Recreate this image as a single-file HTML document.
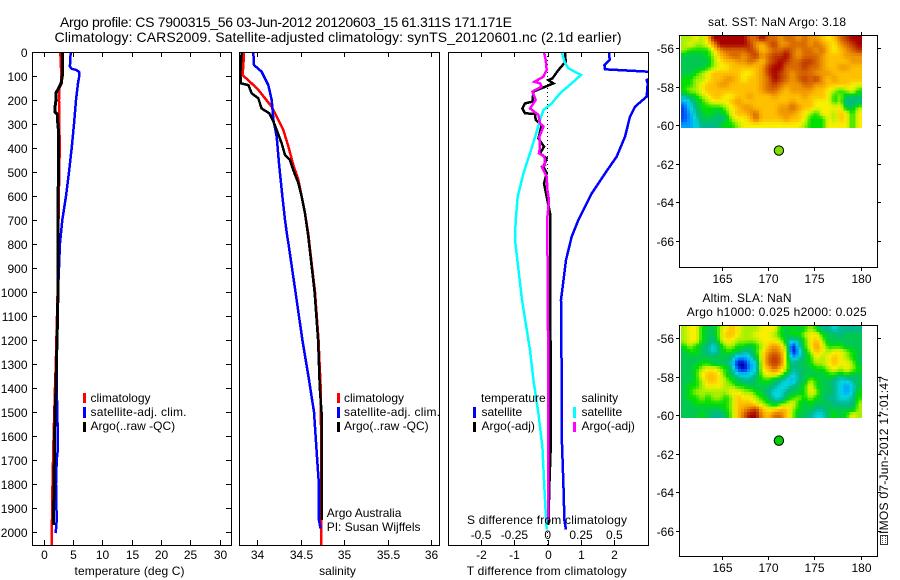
<!DOCTYPE html>
<html lang="en">
<head>
<meta charset="utf-8">
<title>Argo profile chart</title>
<style>
html,body{margin:0;padding:0;background:#fff;}
svg{display:block;}
text{font-family:"Liberation Sans",sans-serif;font-size:12px;fill:#000;}
.title{font-size:14px;}
</style>
</head>
<body>
<svg id="chart" width="900" height="580" viewBox="0 0 900 580" xmlns="http://www.w3.org/2000/svg">
<rect x="0" y="0" width="900" height="580" fill="#fff"/>
<defs>
<clipPath id="clipT"><rect x="32" y="52" width="199" height="493"/></clipPath>
<clipPath id="clipS"><rect x="239" y="52" width="200" height="493"/></clipPath>
<clipPath id="clipD"><rect x="448" y="52" width="200" height="493"/></clipPath>
</defs>
<text class="title" x="60" y="27" textLength="452">Argo profile: CS 7900315_56 03-Jun-2012 20120603_15 61.311S 171.171E</text>
<text class="title" x="54.5" y="42" textLength="567">Climatology: CARS2009. Satellite-adjusted climatology: synTS_20120601.nc (2.1d earlier)</text>

<g id="panelT"></g>
<g id="panelS"></g>
<g id="panelD"></g>
<g id="mapA"></g>
<g id="mapB"></g>

<text x="129.5" y="575" text-anchor="middle" textLength="110">temperature (deg C)</text>
<text x="337.5" y="575" text-anchor="middle">salinity</text>
<text x="546.7" y="575" text-anchor="middle" textLength="160">T difference from climatology</text>
<text x="547" y="524" text-anchor="middle" textLength="160">S difference from climatology</text>

<g>
<rect x="83" y="393" width="3" height="10" fill="#ff0000"/>
<text x="90.5" y="402">climatology</text>
<rect x="83" y="407" width="3" height="11" fill="#0000ff"/>
<text x="90.5" y="416" textLength="96">satellite-adj. clim.</text>
<rect x="83" y="422" width="3" height="10" fill="#000"/>
<text x="90.5" y="430">Argo(..raw -QC)</text>
</g>
<g>
<rect x="337" y="393" width="3" height="10" fill="#ff0000"/>
<text x="344" y="402">climatology</text>
<rect x="337" y="407" width="3" height="11" fill="#0000ff"/>
<text x="344" y="416" textLength="96">satellite-adj. clim.</text>
<rect x="337" y="422" width="3" height="10" fill="#000"/>
<text x="344" y="430">Argo(..raw -QC)</text>
</g>
<text x="326.7" y="517">Argo Australia</text>
<text x="326.7" y="531">PI: Susan Wijffels</text>
<g>
<text x="481" y="402">temperature</text>
<rect x="473" y="407" width="3" height="11" fill="#0000ff"/>
<text x="481.5" y="416">satellite</text>
<rect x="473" y="422" width="3" height="10" fill="#000"/>
<text x="481.5" y="430">Argo(-adj)</text>
<text x="581.5" y="402">salinity</text>
<rect x="573" y="407" width="3" height="11" fill="#00ffff"/>
<text x="581.5" y="416">satellite</text>
<rect x="573" y="422" width="3" height="10" fill="#ff00ff"/>
<text x="581.5" y="430">Argo(-adj)</text>
</g>

<text x="777" y="26" text-anchor="middle" textLength="138">sat. SST: NaN Argo: 3.18</text>
<text x="747" y="302" text-anchor="middle" textLength="89">Altim. SLA: NaN</text>
<text x="776.7" y="316" text-anchor="middle" textLength="180">Argo h1000: 0.025 h2000: 0.025</text>

<g>
<rect x="880.5" y="535.5" width="7" height="9" fill="#fff" stroke="#333" stroke-width="1" shape-rendering="crispEdges"/>
<line x1="882.5" y1="536" x2="882.5" y2="544" stroke="#555" stroke-dasharray="1 1" shape-rendering="crispEdges"/>
<line x1="885.5" y1="536" x2="885.5" y2="544" stroke="#555" stroke-dasharray="1 1" shape-rendering="crispEdges"/>
</g>
<text transform="translate(888,534) rotate(-90)" textLength="158">IMOS 07-Jun-2012 17:01:47</text>
</svg>

<script>
// ---- axis tick data ----
const depthTicks = [0,100,200,300,400,500,600,700,800,900,1000,1100,1200,1300,1400,1500,1600,1700,1800,1900,2000];
const tempTicks = [0,5,10,15,20,25,30];
const salTicks = [34,34.5,35,35.5,36];
const salTickLabels = ['34','34.5','35','35.5','36'];
const tDiffTicks = [-2,-1,0,1,2];
const tDiffTickLabels = ['-2','-1','0','1','2'];
const sDiffTicks = [-0.5,-0.25,0,0.25,0.5];
const sDiffTickLabels = ['-0.5','-0.25','0','0.25','0.5'];
const lonTicks = [165,170,175,180];
const latTicks = [-56,-58,-60,-62,-64,-66];

// ---- temperature panel data ----
const tempClimDepth = [0,130,150,200,300,385,500,600,700,900,1100,1300,1400,1650,1850,2054];
const tempClimValue = [2.87,3.1,2.7,2.64,2.7,2.76,2.7,2.6,2.55,2.5,2.3,2.1,1.96,1.67,1.5,1.4];
const tempSatDepth = [0,60,70,75,85,100,130,200,300,400,500,600,700,800,900,1000,1200,1400,1500,1650,1700,1800,1950,2005];
const tempSatValue = [4.63,4.5,4.8,5.65,6.1,6.1,5.88,5.54,5.2,4.8,4.35,3.84,3.2,2.8,2.65,2.47,2.3,2.25,2.35,2.47,2.25,2.13,2.25,2.08];
const tempArgoDepth = [0,100,130,150,170,200,230,250,260,290,300,400,600,700,900,1100,1300,1400,1500,1650,1800,1960,1970];
const tempArgoValue = [3.27,3.2,3.0,2.6,2.13,2.13,1.96,1.96,2.35,2.35,2.5,2.55,2.5,2.5,2.5,2.4,2.2,2.13,1.96,1.85,1.8,1.67,1.67];

// ---- salinity panel data ----
const salClimDepth = [0,61,96,124,158,193,228,269,325,394,471,533,603,672,769,800,1000,1200,1400,1600,2054];
const salClimValue = [33.847,33.839,33.828,33.916,34.012,34.089,34.166,34.223,34.3,34.358,34.415,34.473,34.511,34.55,34.592,34.6,34.665,34.705,34.73,34.735,34.737];
const salSatDepth = [0,54,82,138,200,283,353,464,575,700,769,800,1000,1200,1366,1500,1700,1800,1950,1980,1985];
const salSatValue = [33.954,33.962,34.05,34.127,34.166,34.185,34.223,34.25,34.281,34.319,34.346,34.36,34.44,34.52,34.596,34.653,34.69,34.71,34.71,34.726,34.726];
const salArgoDepth = [0,89,131,138,172,193,235,256,290,325,381,429,450,492,547,603,672,769,1000,1200,1400,1500,1950];
const salArgoValue = [33.82,33.804,33.812,33.897,33.935,34.012,34.05,34.139,34.185,34.223,34.281,34.319,34.377,34.415,34.473,34.511,34.55,34.588,34.66,34.7,34.72,34.74,34.74];

// ---- difference panel data ----
const diffTSatDepth = [0,33,54,72,82,100,117,131,186,228,269,353,436,506,589,700,769,867,1033,1366,1600,1800,1950,1990];
const diffTSatValue = [1.84,1.86,1.7,1.72,3.02,3.2,2.97,3.0,2.97,2.62,2.47,2.32,2.07,1.72,1.32,0.92,0.72,0.55,0.4,0.42,0.42,0.47,0.5,0.55];
const diffTArgoDepth = [0,40,75,110,117,131,165,207,214,235,256,257,283,304,360,394,422,443,478,506,547,603,672,769,1366,1650,1800,1970];
const diffTArgoValue = [0.52,0.54,0.32,0.14,0.02,0.17,-0.43,-0.46,-0.68,-0.76,-0.68,-0.38,-0.36,-0.18,-0.28,-0.11,-0.23,-0.03,-0.13,-0.03,-0.11,-0.03,0.07,0.07,0.09,0.09,0.05,0.02];
const diffSSatDepth = [0,40,68,96,124,172,214,242,283,346,422,506,603,700,783,1033,1242,1366,1505,1646,1783,1920,1990];
const diffSSatValue = [0.105,0.125,0.155,0.25,0.1925,0.0925,0.03,-0.0325,-0.0575,-0.09,-0.1325,-0.1825,-0.225,-0.24,-0.245,-0.1925,-0.1325,-0.1075,-0.07,-0.04,-0.0275,-0.015,-0.0075];
const diffSArgoDepth = [0,33,75,103,124,131,144,165,200,235,262,297,311,353,394,422,436,471,478,519,575,617,686,769,1000,1366,1950];
const diffSArgoValue = [-0.0275,-0.015,-0.0075,-0.0325,-0.1,-0.0575,-0.045,-0.115,-0.09,-0.1325,-0.07,-0.0575,-0.0325,-0.0625,-0.0575,-0.065,-0.025,-0.02,-0.045,-0.0075,-0.0025,0.01,-0.0025,-0.0025,0,0.005,0.005];

// ---- map data: colour-class index per grid cell ----
const mapPalette = ['#0000b0','#0048f0','#00a0ff','#00d8e0','#00b890','#00c850','#00e000','#a8f000','#f8f000','#ffc000','#f09800','#d86800','#c03800','#a80000'];
const sstGrid = [
[7,7,8,7,9,13,13,13,13,13,13,11,11,13,11,11,10,11,11,10,11,10,10,9,8,9,11,12,13,13],
[7,8,7,7,8,10,13,13,13,13,13,12,10,9,11,12,10,10,11,11,11,10,11,10,9,8,10,11,12,13],
[7,6,6,6,6,8,10,11,11,11,11,12,11,9,10,11,11,12,11,10,11,11,10,11,9,8,9,10,11,12],
[5,5,5,5,6,7,9,10,11,11,10,11,12,10,11,12,12,13,11,10,11,11,11,10,9,9,9,10,10,10],
[5,5,5,5,5,7,8,9,9,10,10,11,10,9,11,12,13,12,11,11,12,12,11,10,9,9,9,9,10,10],
[5,5,5,5,6,7,8,8,9,9,9,9,9,10,12,13,13,11,11,11,12,11,11,10,9,9,10,10,9,9],
[5,5,6,7,8,9,9,9,9,9,8,8,9,10,12,13,12,11,10,11,11,11,10,10,10,9,9,9,9,9],
[6,6,7,7,8,9,9,10,10,9,8,9,9,10,11,13,12,11,10,11,12,11,12,10,9,10,9,9,9,9],
[6,6,7,8,9,9,10,10,9,9,9,9,9,10,11,12,11,10,10,10,11,11,10,10,9,9,9,9,8,8],
[6,7,7,8,9,9,9,9,9,9,9,9,9,10,11,11,10,9,10,10,10,10,9,9,8,7,6,7,8,6],
[4,5,6,7,8,9,9,8,8,9,9,10,9,9,9,10,9,9,9,9,10,9,9,9,8,6,7,5,5,5],
[2,3,5,6,7,8,8,8,9,10,9,9,9,9,9,9,9,9,10,9,9,9,8,8,8,6,7,4,4,4],
[1,3,4,6,6,6,6,7,8,9,10,10,9,9,9,9,10,10,11,10,9,9,8,8,8,8,8,5,5,7],
[1,2,4,5,6,5,5,6,8,9,9,10,11,9,9,9,10,10,10,9,8,7,6,8,8,7,9,8,6,8],
[1,2,3,5,5,5,4,5,7,8,8,9,11,9,9,9,9,10,9,9,8,6,6,6,8,7,9,8,6,8],
[2,2,3,4,4,4,5,6,6,7,8,8,8,8,8,8,8,8,8,8,7,6,6,6,8,8,8,8,6,8]
];
const slaGrid = [
[7,8,8,6,5,5,7,8,9,8,7,7,7,8,8,8,6,5,6,5,6,7,6,4,4,3,4,4,4,4],
[7,8,8,6,5,5,7,9,9,8,7,7,8,8,8,7,6,5,6,6,7,8,8,6,5,5,4,5,5,5],
[7,8,8,6,5,4,7,8,8,7,7,7,7,8,8,8,7,5,3,4,6,8,9,7,5,5,5,5,5,5],
[6,7,6,5,4,3,5,7,7,6,6,5,6,7,9,10,9,6,0,3,6,8,10,8,6,6,6,5,5,5],
[5,6,6,5,4,3,5,6,6,5,4,4,6,8,10,11,10,7,0,2,5,7,9,8,7,8,8,7,6,5],
[5,5,5,5,5,5,5,5,4,2,2,3,5,8,11,12,11,7,2,3,5,6,8,7,8,9,8,7,6,5],
[5,5,5,6,6,5,5,5,3,0,0,2,3,8,11,12,11,7,4,5,5,6,7,7,8,9,8,8,7,5],
[5,5,6,7,8,8,7,6,4,1,0,2,3,8,9,11,9,7,4,4,5,5,6,6,7,8,7,8,7,6],
[5,5,6,8,9,9,8,6,5,3,3,3,4,7,8,8,7,5,3,4,5,5,5,5,6,6,5,6,5,5],
[5,5,6,7,9,9,8,7,6,5,4,4,5,6,6,5,4,3,2,4,5,7,6,5,5,4,3,3,4,5],
[5,6,6,7,8,8,8,7,7,6,6,5,5,5,5,4,3,3,4,5,6,8,6,5,5,4,3,2,3,5],
[5,6,7,7,7,7,7,7,8,8,7,7,6,5,4,3,3,4,5,5,6,8,7,5,5,4,3,2,3,6],
[5,6,6,7,6,7,7,6,7,9,8,8,7,6,5,3,3,5,6,7,6,7,6,5,4,4,3,3,4,6],
[5,5,6,6,6,6,6,6,7,9,9,9,8,7,6,5,6,7,8,6,5,6,5,5,5,4,4,4,4,7],
[5,5,5,5,5,5,5,6,7,9,10,11,12,9,8,8,9,9,7,6,5,5,4,4,5,5,5,5,5,7],
[5,5,5,6,5,4,4,5,7,9,11,13,13,10,9,11,11,9,7,5,5,4,3,3,5,6,5,6,8,7]
];
const gridLonStart = [160.6];
const gridLonEnd = [180.1];
const gridLatStart = [-55.36];
const gridLatEnd = [-60.12];
const floatLon = [171.171];
const floatLat = [-61.311];

// ---- axis functions ----
const NS = 'http://www.w3.org/2000/svg';
function depthY(d){ return 52 + d * 0.24; }
function tempX(t){ return 43.5 + t * 5.867; }
function salX(s){ return 257.3 + (s - 34) * 86.8; }
function tDiffX(t){ return 547.7 + t * 33.33; }
function sDiffX(s){ return 547.7 + s * 133.33; }
function lonX(l){ return 721.7 + (l - 165) * 9.27; }
function latYFor(lat, y56){ return y56 + (-56 - lat) * 19.25; }

function make(tag, parent, attrs, name){
  const el = document.createElementNS(NS, tag);
  for (const k in attrs) el.setAttribute(k, attrs[k]);
  
  
  parent.appendChild(el);
  return el;
}
function label(parent, x, y, str, anchor, name){
  const el = make('text', parent, {x: x, y: y, 'text-anchor': anchor}, name);
  el.textContent = str;
  return el;
}
function tick(parent, x1, y1, x2, y2, name){
  make('line', parent, {x1:x1, y1:y1, x2:x2, y2:y2, stroke:'#000', 'stroke-width':1, 'shape-rendering':'crispEdges'}, name);
}
function series(parent, depths, values, xf, color, width, clip, name){
  const pts = depths.map(function(d, i){ return xf(values[i]).toFixed(1) + ',' + depthY(d).toFixed(1); }).join(' ');
  make('polyline', parent, {points: pts, fill:'none', stroke:color, 'stroke-width':width, 'stroke-linejoin':'miter', 'clip-path':'url(#' + clip + ')', 'shape-rendering':'crispEdges'}, name);
}
function frame(parent, x, y, w, h, name){
  make('rect', parent, {x:x+0.5, y:y+0.5, width:w, height:h, fill:'none', stroke:'#000', 'stroke-width':1, 'shape-rendering':'crispEdges'}, name);
}

// ---- temperature panel ----
const gT = document.getElementById('panelT');
series(gT, tempClimDepth, tempClimValue, tempX, '#ff0000', 2.5, 'clipT', 'temperature-climatology-line');
series(gT, tempSatDepth, tempSatValue, tempX, '#0000ff', 2.5, 'clipT', 'temperature-satellite-line');
series(gT, tempArgoDepth, tempArgoValue, tempX, '#000000', 3, 'clipT', 'temperature-argo-line');
frame(gT, 32, 52, 199, 493, 'temperature-panel-frame');
depthTicks.forEach(function(d){
  const y = Math.round(depthY(d)) + 0.5;
  tick(gT, 32, y, 37, y, 'depth-tick-left');
  tick(gT, 226, y, 231, y, 'depth-tick-right');
  label(gT, 27.5, y + 4.5, String(d), 'end', 'depth-tick-label');
});
tempTicks.forEach(function(t){
  const x = Math.round(tempX(t)) + 0.5;
  tick(gT, x, 52, x, 57, 'temperature-tick-top');
  tick(gT, x, 540, x, 545, 'temperature-tick-bottom');
  label(gT, x, 559, String(t), 'middle', 'temperature-tick-label');
});

// ---- salinity panel ----
const gS = document.getElementById('panelS');
series(gS, salClimDepth, salClimValue, salX, '#ff0000', 2.5, 'clipS', 'salinity-climatology-line');
series(gS, salSatDepth, salSatValue, salX, '#0000ff', 2.5, 'clipS', 'salinity-satellite-line');
series(gS, salArgoDepth, salArgoValue, salX, '#000000', 2.5, 'clipS', 'salinity-argo-line');
frame(gS, 239, 52, 200, 493, 'salinity-panel-frame');
salTicks.forEach(function(s, i){
  const x = Math.round(salX(s)) + 0.5;
  tick(gS, x, 52, x, 57, 'salinity-tick-top');
  tick(gS, x, 540, x, 545, 'salinity-tick-bottom');
  label(gS, x, 559, salTickLabels[i], 'middle', 'salinity-tick-label');
});

// ---- difference panel ----
const gD = document.getElementById('panelD');
make('line', gD, {x1:tDiffX(0), y1:52, x2:tDiffX(0), y2:545, stroke:'#000', 'stroke-width':1, 'stroke-dasharray':'1 3', 'shape-rendering':'crispEdges'}, 'zero-reference-line');
series(gD, diffTSatDepth, diffTSatValue, tDiffX, '#0000ff', 2.5, 'clipD', 'difference-t-satellite-line');
series(gD, diffTArgoDepth, diffTArgoValue, tDiffX, '#000000', 2.5, 'clipD', 'difference-t-argo-line');
series(gD, diffSSatDepth, diffSSatValue, sDiffX, '#00ffff', 2.5, 'clipD', 'difference-s-satellite-line');
series(gD, diffSArgoDepth, diffSArgoValue, sDiffX, '#ff00ff', 2.5, 'clipD', 'difference-s-argo-line');
frame(gD, 448, 52, 200, 493, 'difference-panel-frame');
tDiffTicks.forEach(function(t, i){
  const x = Math.round(tDiffX(t)) + 0.5;
  tick(gD, x, 52, x, 57, 't-difference-tick-top');
  tick(gD, x, 540, x, 545, 't-difference-tick-bottom');
  label(gD, x, 559, tDiffTickLabels[i], 'middle', 't-difference-tick-label');
});
sDiffTicks.forEach(function(s, i){
  label(gD, sDiffX(s), 539, sDiffTickLabels[i], 'middle', 's-difference-tick-label');
});

// ---- maps ----
function paletteColor(v){
  const lo = Math.floor(v), hi = Math.min(lo + 1, mapPalette.length - 1), f = v - lo;
  const a = parseInt(mapPalette[lo].slice(1), 16), b = parseInt(mapPalette[hi].slice(1), 16);
  const ch = function(s){ return Math.round(((a >> s) & 255) * (1 - f) + ((b >> s) & 255) * f); };
  return 'rgb(' + ch(16) + ',' + ch(8) + ',' + ch(0) + ')';
}
function sampleGrid(grid, r, c){
  const rows = grid.length, cols = grid[0].length;
  const r0 = Math.max(0, Math.floor(r)), r1 = Math.min(rows - 1, r0 + 1), fr = Math.max(0, r - r0);
  const c0 = Math.max(0, Math.floor(c)), c1 = Math.min(cols - 1, c0 + 1), fc = Math.max(0, c - c0);
  return (grid[r0][c0] * (1 - fc) + grid[r0][c1] * fc) * (1 - fr) + (grid[r1][c0] * (1 - fc) + grid[r1][c1] * fc) * fr;
}
function drawMap(parent, grid, top, bottom, y56, prefix, markerColor){
  const latY = function(l){ return latYFor(l, y56); };
  const rows = grid.length, cols = grid[0].length;
  const dLon = (gridLonEnd[0] - gridLonStart[0]) / cols / 2;
  const dLat = (gridLatEnd[0] - gridLatStart[0]) / rows / 2;
  for (let r = 0; r < rows * 2; r++){
    for (let c = 0; c < cols * 2; c++){
      const x0 = lonX(gridLonStart[0] + c * dLon), x1 = lonX(gridLonStart[0] + (c + 1) * dLon);
      const y0 = latY(gridLatStart[0] + r * dLat), y1 = latY(gridLatStart[0] + (r + 1) * dLat);
      const v = sampleGrid(grid, (r - 0.5) / 2, (c - 0.5) / 2);
      make('rect', parent, {x:x0.toFixed(2), y:y0.toFixed(2), width:(x1-x0+0.5).toFixed(2), height:(y1-y0+0.5).toFixed(2), fill:paletteColor(v), 'shape-rendering':'crispEdges'}, prefix + '-cell');
    }
  }
  frame(parent, 679, top, 198, bottom - top, prefix + '-frame');
  lonTicks.forEach(function(l){
    const x = Math.round(lonX(l)) + 0.5;
    tick(parent, x, top - 3, x, top, prefix + '-lon-tick-top');
    tick(parent, x, bottom + 1, x, bottom + 4, prefix + '-lon-tick-bottom');
    label(parent, x, bottom + 16, String(l), 'middle', prefix + '-lon-label');
  });
  latTicks.forEach(function(l){
    const y = Math.round(latY(l)) + 0.5;
    tick(parent, 676, y, 679, y, prefix + '-lat-tick-left');
    tick(parent, 878, y, 881, y, prefix + '-lat-tick-right');
    label(parent, 674, y + 4.5, String(l), 'end', prefix + '-lat-label');
  });
  make('circle', parent, {cx:lonX(floatLon[0]), cy:latY(floatLat[0]), r:4.7, fill:markerColor, stroke:'#000', 'stroke-width':1}, prefix + '-float-marker');
}
drawMap(document.getElementById('mapA'), sstGrid, 35, 267, 48.3, 'sst-map', '#7fe000');
drawMap(document.getElementById('mapB'), slaGrid, 325, 556, 338.4, 'sla-map', '#00d000');
</script>
</body>
</html>
